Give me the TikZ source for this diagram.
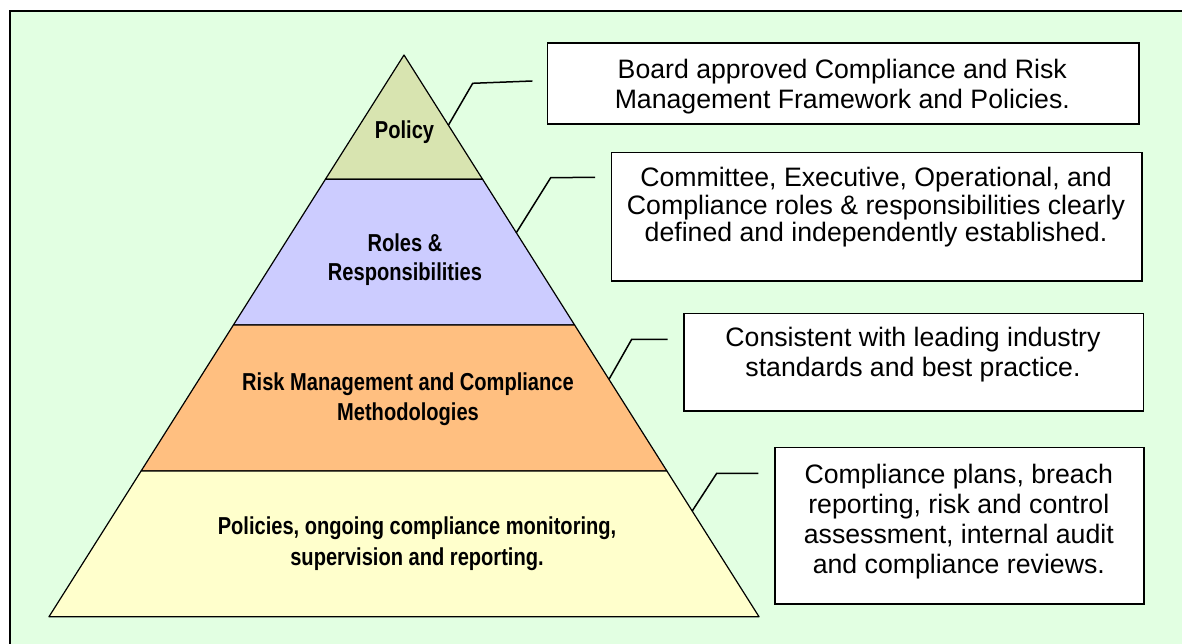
\documentclass[tikz,border=0pt]{standalone}
\usepackage{fontspec}
\setmainfont{Liberation Sans}
\newfontfamily\narrowsans[FakeStretch=0.82]{Liberation Sans}
\definecolor{bgc}{RGB}{226,255,226}
\definecolor{cpolicy}{RGB}{216,228,176}
\definecolor{croles}{RGB}{204,204,255}
\definecolor{crisk}{RGB}{255,191,128}
\definecolor{cbase}{RGB}{255,255,204}
\newcommand{\lblf}[1]{\narrowsans\bfseries\fontsize{24.5}{#1}\selectfont}
\newcommand{\bxfont}[2]{\fontsize{#1}{#2}\selectfont}
\begin{document}
\begin{tikzpicture}[x=1pt,y=-1pt,
  band/.style={draw=black,line width=1.2pt,line join=round},
  box/.style={draw=black,line width=1.6pt,fill=white,inner sep=0pt,anchor=north west},
  leader/.style={draw=black,line width=1.5pt},
  lbl/.style={inner sep=0pt,align=center,anchor=north},
  txt/.style={inner sep=0pt,align=center,anchor=north}]
\useasboundingbox (0,0) rectangle (1182,644);
% background frame
\fill[bgc] (9.8,11) rectangle (1182,644);
\draw[line width=1.8pt] (9.8,644) -- (9.8,11) -- (1182,11);
% pyramid bands
\path[band,fill=cpolicy] (404,55) -- (482.6,179.3) -- (325.4,179.3) -- cycle;
\path[band,fill=croles] (325.4,179.3) -- (482.6,179.3) -- (574.6,325) -- (233.4,325) -- cycle;
\path[band,fill=crisk] (233.4,325) -- (574.6,325) -- (666.9,471) -- (141.1,471) -- cycle;
\path[band,fill=cbase] (141.1,471) -- (666.9,471) -- (759,616.7) -- (49,616.7) -- cycle;
% band labels
\node[lbl,font={\lblf{30}}] (lpolicy) at (404.5,118.7) {\rule{0pt}{19.6pt}Policy};
\node[lbl,font={\lblf{28.3}}] (lroles) at (405,232.1) {\rule{0pt}{19.6pt}Roles \&\\Responsibilities};
\node[lbl,font={\lblf{30}}] (lrisk) at (408,370.4) {\rule{0pt}{19.6pt}Risk Management and Compliance\\Methodologies};
\node[lbl,font={\lblf{30.7}}] (lbase) at (417,514.7) {\rule{0pt}{19.6pt}Policies, ongoing compliance monitoring,\\supervision and reporting.};
% boxes
\node[box,minimum width=591.3pt,minimum height=81pt] (b1) at (546.7,42.3) {};
\node[box,minimum width=530.3pt,minimum height=128.3pt] (b2) at (610.7,151.7) {};
\node[box,minimum width=459.4pt,minimum height=97.5pt] (b3) at (683.3,312.5) {};
\node[box,minimum width=369pt,minimum height=156.5pt] (b4) at (774.3,446.7) {};
% box texts
\node[txt,font={\bxfont{26.67}{30.5}}] (t1) at (842.3,56.5) {\rule{0pt}{21.5pt}Board approved Compliance and Risk\\Management Framework and Policies.};
\node[txt,font={\bxfont{26.67}{27.5}}] (t2) at (876,165.2) {\rule{0pt}{21.5pt}Committee, Executive, Operational, and\\Compliance roles \& responsibilities clearly\\defined and independently established.};
\node[txt,font={\bxfont{26.67}{30.3}}] (t3) at (913,324.3) {\rule{0pt}{21.5pt}Consistent with leading industry\\standards and best practice.};
\node[txt,font={\bxfont{26.67}{30}}] (t4) at (958.8,461.8) {\rule{0pt}{21.5pt}Compliance plans, breach\\reporting, risk and control\\assessment, internal audit\\and compliance reviews.};
% leader lines
\coordinate (c1s) at (448.5,125);   \coordinate (c1b) at (472.7,83.3);  \coordinate (c1e) at (532.3,81);
\coordinate (c2s) at (516.3,232.7); \coordinate (c2b) at (550.7,177.7); \coordinate (c2e) at (595,177.3);
\coordinate (c3s) at (609,379.3);   \coordinate (c3b) at (631.7,339.3); \coordinate (c3e) at (667.7,339.3);
\coordinate (c4s) at (692.2,511);   \coordinate (c4b) at (716.7,473.3); \coordinate (c4e) at (758.3,473.3);
\draw[leader] (c1s) -- (c1b) -- (c1e);
\draw[leader] (c2s) -- (c2b) -- (c2e);
\draw[leader] (c3s) -- (c3b) -- (c3e);
\draw[leader] (c4s) -- (c4b) -- (c4e);
\end{tikzpicture}
\end{document}
